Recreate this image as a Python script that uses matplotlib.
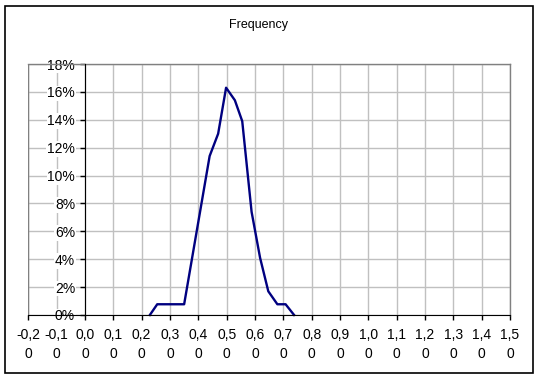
import numpy as np
import matplotlib
matplotlib.use('Agg')
import matplotlib.pyplot as plt
from matplotlib.patches import Rectangle

# frequency curve (x value, share in %)
x_vals = [0.229, 0.255, 0.350, 0.440, 0.470, 0.498, 0.529, 0.555, 0.588, 0.618, 0.647, 0.679, 0.708, 0.738]
freq_pct = [0.0, 0.77, 0.77, 11.4, 13.0, 16.3, 15.4, 13.9, 7.4, 4.1, 1.7, 0.77, 0.77, 0.0]

x_ticks = [round(-0.2 + 0.1 * i, 1) for i in range(18)]
x_ticklabels = [f"{v:.1f}".replace('.', ',') + "\n0" for v in x_ticks]
y_ticks = [0, 2, 4, 6, 8, 10, 12, 14, 16, 18]
y_ticklabels = [f"{v}%" for v in y_ticks]

W, H = 538, 379
plt.rcParams['font.family'] = ['Liberation Sans', 'DejaVu Sans']

fig = plt.figure(figsize=(W / 100, H / 100), dpi=100)
fig.patch.set_facecolor('white')
# outer chart border
fig.patches.append(Rectangle((5 / W, 6 / H), 528 / W, 367 / H, transform=fig.transFigure,
                             fill=False, edgecolor='black', linewidth=1.2))

ax = fig.add_axes([28.3 / W, (H - 315) / H, (510 - 28.3) / W, (315 - 64) / H])

ax.plot(x_vals, np.array(freq_pct) / 100, color='#000080', linewidth=1.7, zorder=3, clip_on=False)

ax.set_xlim(-0.2, 1.5)
ax.set_ylim(0, 0.18)
ax.set_xticks(x_ticks)
ax.set_xticklabels(x_ticklabels, linespacing=1.5)
ax.set_yticks(np.array(y_ticks) / 100)
ax.set_yticklabels(y_ticklabels)

ax.grid(True, color='#c0c0c0', linewidth=1.0)
ax.set_axisbelow(True)

for s in ['top', 'right']:
    ax.spines[s].set_color('#808080')
    ax.spines[s].set_linewidth(1.0)
ax.spines['left'].set_position(('data', 0))
ax.spines['left'].set_color('black')
ax.spines['bottom'].set_color('black')
ax.spines['left'].set_zorder(4)
ax.spines['bottom'].set_zorder(4)
# left border of the plot area
ax.axvline(-0.2, color='#808080', linewidth=1.0, zorder=1)

ax.tick_params(axis='both', direction='out', length=3.6, width=1.0, color='black',
               labelsize=10, labelcolor='black')
ax.tick_params(axis='x', pad=5.5)
ax.tick_params(axis='y', pad=3.5)
for lab in ax.get_yticklabels():
    lab.set_bbox(dict(facecolor='white', edgecolor='none', pad=0.6))

fig.text(258 / W, 1 - 25 / H, 'Frequency', ha='center', va='center', fontsize=9)

fig.savefig('out.png', dpi=100)
